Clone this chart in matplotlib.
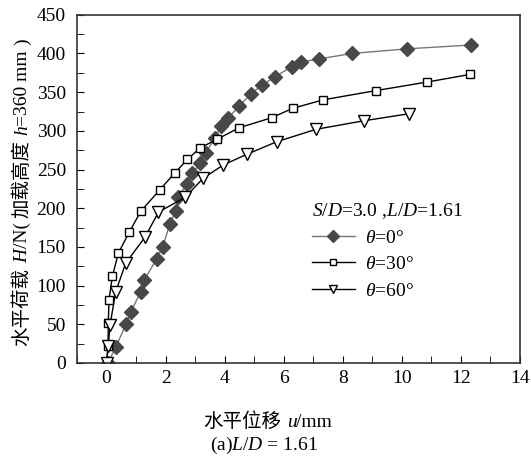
import matplotlib
matplotlib.use("Agg")
import matplotlib.pyplot as plt
from matplotlib.ticker import MultipleLocator
from matplotlib.transforms import IdentityTransform

plt.rcParams['font.family'] = ['Liberation Serif', 'Noto Sans CJK SC']
plt.rcParams['mathtext.fontset'] = 'custom'
plt.rcParams['mathtext.rm'] = 'Liberation Serif'
plt.rcParams['mathtext.it'] = 'Liberation Serif:italic'

# theta = 0 deg
u0 = [0.05, 0.32, 0.66, 0.82, 1.16, 1.28, 1.70, 1.90, 2.15, 2.34, 2.43, 2.72, 2.91, 3.17,
      3.36, 3.68, 3.88, 4.13, 4.49, 4.90, 5.26, 5.71, 6.28, 6.58, 7.21, 8.31, 10.18, 12.36]
h0 = [0, 21, 50, 66, 92, 107, 135, 150, 180, 196, 215, 231, 245, 258,
      272, 291, 306, 317, 332, 348, 359, 370, 383, 389, 393, 400, 406, 411]
# theta = 30 deg
u30 = [0, 0.05, 0.06, 0.085, 0.20, 0.40, 0.77, 1.16, 1.81, 2.32, 2.74, 3.17, 3.74, 4.49,
       5.60, 6.30, 7.33, 9.12, 10.85, 12.32]
h30 = [0, 22, 52, 82, 112, 142, 169, 196, 224, 246, 263, 278, 289, 304,
       317, 329, 340, 352, 363, 373]
# theta = 60 deg
u60 = [0, 0.06, 0.12, 0.31, 0.65, 1.31, 1.76, 2.66, 3.28, 3.96, 4.77, 5.77, 7.10, 8.71, 10.23]
h60 = [0, 22, 49, 92, 129, 163, 195, 214, 239, 256, 270, 286, 302, 313, 322]

labels = [r'$\theta$=0°', r'$\theta$=30°', r'$\theta$=60°']
legend_title = r'$S/D$=3.0 ,$L/D$=1.61'
caption = r'(a)$L/D$ = 1.61'
xticks = [0, 2, 4, 6, 8, 10, 12, 14]
yticks = [0, 50, 100, 150, 200, 250, 300, 350, 400, 450]

CJK = dict(family='Noto Sans CJK SC')
ROM = dict(family='Liberation Serif')
ITA = dict(family='Liberation Serif', style='italic')
# (text, style, gap after in px)
xlabel_pieces = [('水平位移', CJK, 5), ('u', ITA, 0), ('/mm', ROM, 0)]
ylabel_pieces = [('水平荷载', CJK, 5), ('H', ITA, 0), ('/N(', ROM, 4), ('加载高度', CJK, 5),
                 ('h', ITA, 0), ('=360 mm', ROM, 5), (')', ROM, 0)]

fig = plt.figure(figsize=(5.31, 4.68), dpi=100)
ax = fig.add_axes([0.145, 0.2244, 0.834, 0.744])

ax.plot(u0, h0, color='#777777', lw=1.0, marker='D', ms=7.5, mfc='#484848', mec='#484848',
        label=labels[0])
ax.plot(u30, h30, color='black', lw=1.0, marker='s', ms=6, mfc='white', mec='black', mew=1.0,
        label=labels[1])
ax.plot(u60, h60, color='black', lw=1.0, marker='v', ms=8, mfc='white', mec='black', mew=1.0,
        label=labels[2])

ax.set_xlim(-1, 14)
ax.set_ylim(0, 450)
ax.set_xticks(xticks)
ax.set_yticks(yticks)
ax.xaxis.set_minor_locator(MultipleLocator(1))
ax.yaxis.set_minor_locator(MultipleLocator(25))
ax.tick_params(which='both', direction='in', top=False, right=False, labelsize=14, length=5)
ax.tick_params(axis='y', which='major', pad=8)
ax.tick_params(axis='x', which='major', pad=5)
for s in ax.spines.values():
    s.set_linewidth(1.2)
    s.set_color('#333333')

leg = ax.legend(title=legend_title, loc='upper left', bbox_to_anchor=(0.5, 0.505),
                frameon=False, fontsize=14, title_fontsize=14, handlelength=2.2,
                handletextpad=0.5, labelspacing=0.45, borderpad=0.2, markerscale=0.75)
leg._legend_box.align = 'left'

fig.text(0.497, 0.049, caption, ha='center', va='center', fontsize=14)


def place_pieces(pieces, x_px, y_px, rotation=0, fontsize=14):
    renderer = fig.canvas.get_renderer()
    lens = []
    for txt, kw, gap in pieces:
        t = fig.text(0, 0, txt, fontsize=fontsize, **kw)
        bb = t.get_window_extent(renderer)
        lens.append(bb.width)
        t.remove()
    total = sum(lens) + sum(g for _, _, g in pieces)
    H = fig.bbox.height
    cur = (x_px - total / 2) if rotation == 0 else (H - y_px - total / 2)
    for (txt, kw, gap), L in zip(pieces, lens):
        if rotation == 0:
            fig.text(cur, H - y_px, txt, transform=IdentityTransform(), fontsize=fontsize,
                     ha='left', va='baseline', **kw)
        else:
            fig.text(x_px, cur, txt, transform=IdentityTransform(), fontsize=fontsize,
                     ha='left', va='baseline', rotation=90, rotation_mode='anchor', **kw)
        cur += L + gap


place_pieces(xlabel_pieces, 268, 427)
place_pieces(ylabel_pieces, 27, 192, rotation=90)

fig.savefig('out.png', dpi=100)
